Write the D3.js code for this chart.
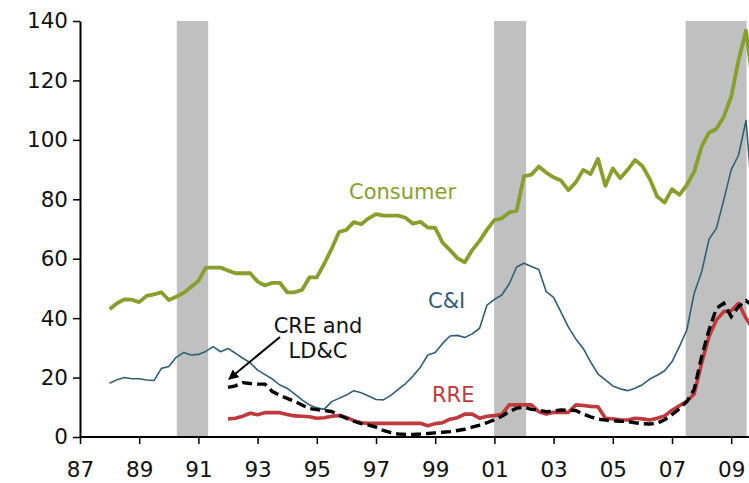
<!DOCTYPE html>
<html><head><meta charset="utf-8">
<script src="https://cdn.jsdelivr.net/npm/d3@7"></script>
<style>
html,body{margin:0;padding:0;background:#fff;}
svg{display:block;font-family:"DejaVu Sans",Verdana,sans-serif;}
</style></head>
<body>
<svg id="chart" width="749" height="483"></svg>
<script>
// Quarterly data (start year, values every 0.25 year)
const consumerStart = 1988.0;
const consumer = [
 43,45,46.3,46.2, 45.4,47.5,48,48.7, 46.1,47.2,48.5,50.5, 52.5,57,57,57,
 56,55.1,55.1,55.1, 52.3,51,51.9,51.9, 48.7,48.7,49.5,53.7, 53.7,58.3,63.3,69,
 69.7,72.3,71.6,73.6, 75,74.5,74.5,74.5, 73.8,71.8,72.4,70.5, 70.4,65.4,62.9,60.2,
 58.8,62.9,66,69.8, 73,73.6,75.6,76.2, 87.8,88.3,91,89, 87.4,86.3,83.1,85.7,
 89.9,88.5,93.6,84.5, 90.4,87.1,89.9,93.2, 91.2,86.8,80.9,78.9, 83.4,81.5,84.8,89.3,
 97.7,102.4,103.7,107.8, 114.5,126.9,136.7,118
];
const ciStart = 1988.0;
const ci = [
 18.1,19.3,20,19.6, 19.6,19.2,19,23.1, 23.7,26.8,28.4,27.6, 27.8,28.8,30.4,28.7,
 29.8,28.2,26.5,25, 22.5,21,19.5,17.5, 16.4,14.5,12.5,10.8, 9.8,9.3,11.9,13,
 14.1,15.6,14.9,13.8, 12.6,12.5,14,16, 18,20.5,23.5,27.6, 28.4,31.5,34,34.2,
 33.5,34.7,36.6,44.4, 46.3,47.8,51.5,57.2, 58.5,57.4,56.4,48.9, 47,42,37,33,
 29.8,25.3,21.2,19.2, 17.2,16.2,15.6,16.4, 17.6,19.5,20.8,22.3, 25.3,30.4,36,48.4,
 55.5,66.5,70.2,79.8, 89.9,94.9,106.5,76
];
const creStart = 1992.0;
const cre = [
 16.7,17.2,18.3,18, 17.8,17.8,15.3,14, 13,12,10.8,9.6, 9.2,8.9,8.6,7.4,
 6.3,5.3,4.5,4, 3.3,2.2,1.5,1, 0.9,0.9,1,1.2, 1.4,1.6,1.8,2.2,
 2.6,3.3,4,4.8, 5.8,7,8.5,9.7, 10,9.3,9,8.5, 8.7,9.1,9,8.9,
 7.7,6.8,6,5.7, 5.5,5.3,5.2,4.8, 4.5,4.4,4.6,5.8, 7.5,9.5,11.9,16,
 27,36,43.3,45, 40.5,43.9,45.9,44
];
const rreStart = 1992.0;
const rre = [
 6.1,6.3,7,8, 7.5,8.2,8.2,8.2, 7.6,7.1,7,6.8, 6.3,6.5,7,7.2,
 6.6,5.5,4.8,4.6, 4.6,4.6,4.6,4.6, 4.6,4.6,4.6,3.8, 4.5,4.8,6,6.5,
 7.7,7.7,6.3,7, 7.2,7.6,10.8,10.8, 10.8,10.8,8.5,7.7, 8.3,8.3,8.3,10.8,
 10.6,10.3,10.2,6.3, 6.1,5.8,5.7,6.3, 6.1,5.7,6.3,7.1, 9,10.5,12,14.5,
 24.8,33.8,39.4,42.2, 42.5,45,40,36
];
const recessions = [[1990.27, 1991.33], [2000.99, 2002.07], [2007.46, 2009.52]];
const xTicks = [1987,1989,1991,1993,1995,1997,1999,2001,2003,2005,2007,2009];
const yTicks = [0,20,40,60,80,100,120,140];

const svg = d3.select("#chart");
const x = d3.scaleLinear().domain([1987, 2009]).range([80, 731.2]);
const y = d3.scaleLinear().domain([0, 140]).range([437, 21]);

const toPts = (start, arr) => arr.map((v, i) => [start + i * 0.25, v]);

// recession bands
svg.append("g").selectAll("rect").data(recessions).join("rect")
  .attr("x", d => x(d[0])).attr("width", d => x(d[1]) - x(d[0]))
  .attr("y", y(140)).attr("height", y(0) - y(140))
  .attr("fill", "#c0c0c0");

const line = d3.line().x(d => x(d[0])).y(d => y(d[1]));

svg.append("path").datum(toPts(ciStart, ci)).attr("d", line)
  .attr("fill", "none").attr("stroke", "#2e6075").attr("stroke-width", 1.6)
  .attr("stroke-linejoin", "round");
svg.append("path").datum(toPts(rreStart, rre)).attr("d", line)
  .attr("fill", "none").attr("stroke", "#c0393b").attr("stroke-width", 3.6)
  .attr("stroke-linejoin", "round");
svg.append("path").datum(toPts(creStart, cre)).attr("d", line)
  .attr("fill", "none").attr("stroke", "#000").attr("stroke-width", 3.4)
  .attr("stroke-dasharray", "10,5");
svg.append("path").datum(toPts(consumerStart, consumer)).attr("d", line)
  .attr("fill", "none").attr("stroke", "#8a9f2b").attr("stroke-width", 3.8)
  .attr("stroke-linejoin", "round");

// axes
const yAxis = svg.append("g").attr("transform", "translate(80,0)")
  .call(d3.axisLeft(y).tickValues(yTicks).tickSize(7).tickPadding(5).tickSizeOuter(0));
const xAxis = svg.append("g").attr("transform", "translate(0,437)")
  .call(d3.axisBottom(x).tickValues(xTicks).tickSize(7).tickPadding(18).tickSizeOuter(0)
    .tickFormat(d => String(d % 100).padStart(2, "0")));
xAxis.select(".domain").attr("d", "M80,0H749");
[yAxis, xAxis].forEach(g => {
  g.select(".domain").attr("stroke", "#000").attr("stroke-width", 2);
  g.selectAll(".tick line").attr("stroke", "#000").attr("stroke-width", 1.5);
  g.selectAll("text").attr("font-size", 21.5).attr("fill", "#111")
    .attr("font-family", '"DejaVu Sans",Verdana,sans-serif');
});

// labels
const lab = (t, px, py, col, anchor) => svg.append("text").text(t)
  .attr("x", px).attr("y", py).attr("fill", col).attr("font-size", 21)
  .attr("text-anchor", anchor || "start");
lab("Consumer", 349, 199, "#8a9f2b");
lab("C&I", 428, 308, "#2e6075");
lab("RRE", 432, 402, "#c0393b");
lab("CRE and", 318, 333, "#111", "middle");
lab("LD&C", 318, 358, "#111", "middle");

// arrow
svg.append("defs").append("marker").attr("id", "ah")
  .attr("viewBox", "0 0 10 10").attr("refX", 9).attr("refY", 5)
  .attr("markerWidth", 5).attr("markerHeight", 5).attr("orient", "auto")
  .append("path").attr("d", "M0,0L10,5L0,10z").attr("fill", "#000");
svg.append("line").attr("x1", 280).attr("y1", 337).attr("x2", 229).attr("y2", 379)
  .attr("stroke", "#000").attr("stroke-width", 2).attr("marker-end", "url(#ah)");
</script>
</body></html>
